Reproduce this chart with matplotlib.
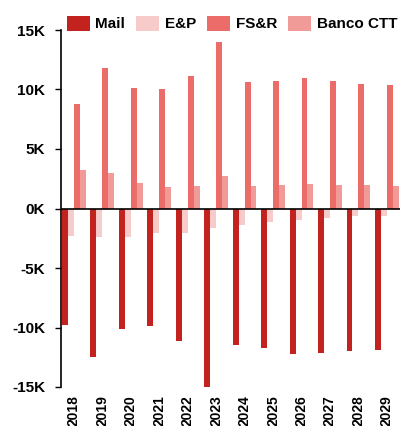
import numpy as np
import matplotlib
matplotlib.use('Agg')
import matplotlib.pyplot as plt
from matplotlib.ticker import FuncFormatter

plt.rcParams['font.family'] = ['Liberation Sans', 'DejaVu Sans']
plt.rcParams['font.weight'] = 'bold'

years = ['2018', '2019', '2020', '2021', '2022', '2023',
         '2024', '2025', '2026', '2027', '2028', '2029']
mail = [-9830, -12500, -10160, -9900, -11150, -15100,
        -11430, -11760, -12200, -12130, -11960, -11880]
ep = [-2270, -2360, -2360, -2020, -2020, -1600,
      -1350, -1150, -950, -760, -670, -590]
fsr = [8800, 11830, 10100, 10000, 11100, 14000,
       10650, 10730, 10930, 10730, 10480, 10400]
banco = [3260, 2950, 2170, 1800, 1890, 2700,
         1890, 1970, 2080, 1970, 1970, 1890]

series = [('Mail', mail, '#c3231f'),
          ('E&P', ep, '#f8cbcb'),
          ('FS&R', fsr, '#eb6c68'),
          ('Banco CTT', banco, '#f19b99')]

fig = plt.figure(figsize=(4.01, 4.26), dpi=100)
ax = fig.add_axes([60.5 / 401, 1 - 387 / 426, 339 / 401, 357 / 426])

x = np.arange(len(years))
w = 0.21
for i, (name, vals, col) in enumerate(series):
    ax.bar(x + (i - 1.5) * w, vals, width=w, color=col, label=name, zorder=2)

ax.axhline(0, color='black', lw=1.2, zorder=3)
ax.set_ylim(-15000, 15000)
ax.set_xlim(-0.46, 11.44)
ax.set_yticks(np.arange(-15000, 15001, 5000))
ax.yaxis.set_major_formatter(FuncFormatter(lambda v, p: '0K' if v == 0 else f'{int(v / 1000)}K'))
ax.set_xticks(x)
ax.set_xticklabels(years, rotation=90, fontsize=10, fontweight='bold')
ax.tick_params(axis='x', length=0, pad=6)
ax.tick_params(axis='y', length=4, width=1, labelsize=11, pad=7)
for lab in ax.get_yticklabels():
    lab.set_fontweight('bold')

for s in ['top', 'right', 'bottom']:
    ax.spines[s].set_visible(False)
ax.spines['left'].set_linewidth(1.2)

fig.legend(loc='center', bbox_to_anchor=(232 / 401, 1 - 23.5 / 426), ncol=4,
           frameon=False, prop={'size': 11, 'weight': 'bold'},
           handlelength=1.5, handleheight=1.2, handletextpad=0.35,
           columnspacing=0.75, borderpad=0, borderaxespad=0)

fig.savefig('out.png', dpi=100)
